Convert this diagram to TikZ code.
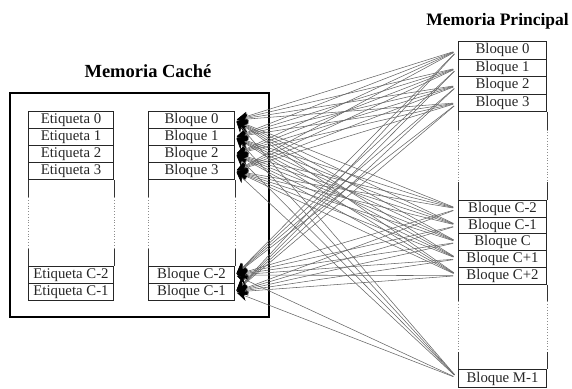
\documentclass[tikz,border=0pt]{standalone}
\usepackage{fontspec}
\setmainfont{Liberation Serif}
\usetikzlibrary{arrows.meta,calc}

\begin{document}
\begin{tikzpicture}[x=1pt,y=-1pt,
  cell/.style={draw=black!85, line width=1pt, inner sep=0pt, anchor=north west,
    minimum height=17pt, font=\fontsize{14.8}{15}\selectfont, text=black!85},
  tagcell/.style={cell, minimum width=85pt},
  blkcell/.style={cell, minimum width=86pt},
  memcell/.style={cell, minimum width=88pt},
  side/.style={draw=black!80, line width=0.8pt},
  gapside/.style={draw=black!45, line width=0.8pt, dotted},
  heading/.style={font=\bfseries\fontsize{18.5}{20}\selectfont, inner sep=0pt},
  link/.style={draw=black!60, line width=0.55pt, shorten <=5pt, shorten >=2pt,
    -{Stealth[length=11pt,width=9pt,color=black]}}
]
\useasboundingbox (0,0) rectangle (572,388);

% titles
\node[heading] (tcache) at (148,71) {Memoria Caché};
\node[heading, font=\bfseries\fontsize{17.5}{19}\selectfont, anchor=base east] (tmain) at (569,25.7) {Memoria Principal};

% cache frame
\draw[line width=2.5pt] (10,93) rectangle (269,317);

% cache: tags
\node[tagcell] (e0)  at (28,111) {Etiqueta 0};
\node[tagcell] (e1)  at (28,128) {Etiqueta 1};
\node[tagcell] (e2)  at (28,145) {Etiqueta 2};
\node[tagcell] (e3)  at (28,162) {Etiqueta 3};
\node[tagcell] (eC2) at (28,266) {Etiqueta C-2};
\node[tagcell] (eC1) at (28,283) {Etiqueta C-1};

% cache: blocks
\node[blkcell] (b0)  at (148,111) {Bloque 0};
\node[blkcell] (b1)  at (148,128) {Bloque 1};
\node[blkcell] (b2)  at (148,145) {Bloque 2};
\node[blkcell] (b3)  at (148,162) {Bloque 3};
\node[blkcell] (bC2) at (148,266) {Bloque C-2};
\node[blkcell] (bC1) at (148,283) {Bloque C-1};

% main memory
\node[memcell, minimum height=17.5pt] (m0) at (458,41)   {Bloque 0};
\node[memcell, minimum height=17.5pt] (m1) at (458,58.5) {Bloque 1};
\node[memcell, minimum height=17.5pt] (m2) at (458,76)   {Bloque 2};
\node[memcell, minimum height=17.5pt] (m3) at (458,93.5) {Bloque 3};
\node[memcell, minimum height=16.7pt] (mC2)  at (458,200)   {Bloque C-2};
\node[memcell, minimum height=16.7pt] (mC1)  at (458,216.7) {Bloque C-1};
\node[memcell, minimum height=16.7pt] (mC)   at (458,233.4) {Bloque C};
\node[memcell, minimum height=16.7pt] (mCp1) at (458,250.1) {Bloque C+1};
\node[memcell, minimum height=16.7pt] (mCp2) at (458,266.8) {Bloque C+2};
\node[memcell, minimum height=18pt]   (mM1)  at (458,369)   {Bloque M-1};

% column sides across the elided rows: solid, dotted, solid
\foreach \a/\b in {e3/eC2, b3/bC2, m3/mC2, mCp2/mM1}{
  \foreach \s/\n in {west/west, east/east}{
    \coordinate (top) at (\a.south \s);
    \coordinate (bot) at (\b.north \n);
    \draw[side] (top) -- ($(top)!0.2!(bot)$);
    \draw[gapside] ($(top)!0.2!(bot)$) -- ($(top)!0.8!(bot)$);
    \draw[side] ($(top)!0.8!(bot)$) -- (bot);
  }
}

% every main-memory block may be placed in any cache line
\foreach \m in {m0,m1,m2,m3,mC2,mC1,mC,mCp1,mCp2,mM1}{
  \foreach \c in {b0,b1,b2,b3,bC2,bC1}{
    \draw[link] (\m.west) -- (\c.east);
  }
}
\end{tikzpicture}
\end{document}
